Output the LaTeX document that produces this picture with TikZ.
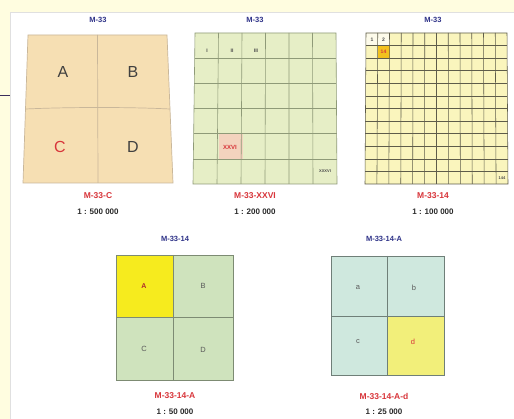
\documentclass[tikz,border=0pt]{standalone}
\usepackage{fontspec}
\setmainfont{Liberation Sans}
\usetikzlibrary{calc}
\definecolor{bgyellow}{HTML}{FFFDE0}
\definecolor{leftline}{HTML}{3A2D5C}
\definecolor{navy}{HTML}{2E3288}
\definecolor{mred}{HTML}{D8353A}
\definecolor{scaletxt}{HTML}{2A2A2A}
\definecolor{pfill}{HTML}{F6DFB3}
\definecolor{pline}{HTML}{C9B79A}
\definecolor{gfill}{HTML}{E6EEC6}
\definecolor{gline}{HTML}{8F9A78}
\definecolor{pinkcell}{HTML}{F3D3BE}
\definecolor{yfill}{HTML}{FAF5BD}
\definecolor{yline}{HTML}{5E5C4A}
\definecolor{orcell}{HTML}{F2C11E}
\definecolor{whcell}{HTML}{FDFBEA}
\definecolor{g4fill}{HTML}{CFE3BD}
\definecolor{g4line}{HTML}{7D8B73}
\definecolor{yelA}{HTML}{F6EB1E}
\definecolor{cfill}{HTML}{CFE8DE}
\definecolor{cline}{HTML}{6F7F78}
\definecolor{yeld}{HTML}{F2EF7A}
\begin{document}
\begin{tikzpicture}[x=1pt,y=-1pt,
  ttl/.style={text=navy,font=\bfseries\fontsize{7.5}{8}\selectfont,inner sep=0pt},
  nm/.style={text=mred,font=\bfseries\fontsize{8.5}{9}\selectfont,inner sep=0pt},
  scl/.style={text=scaletxt,font=\bfseries\fontsize{8}{9}\selectfont,inner sep=0pt},
  big/.style={text=black!75,font=\fontsize{16}{17}\selectfont,inner sep=0pt},
  tiny/.style={text=black!70,font=\bfseries\fontsize{5}{6}\selectfont,inner sep=0pt},
  small/.style={text=black!65,font=\bfseries\fontsize{6}{7}\selectfont,inner sep=0pt},
  quad/.style={text=black!65,font=\fontsize{7.5}{8}\selectfont,inner sep=0pt}]
\useasboundingbox (0,0) rectangle (514,419);
\fill[bgyellow] (0,0) rectangle (514,419);
\fill[white] (10,12) rectangle (514,419);
\draw[black!12] (10.5,419) -- (10.5,12.5) -- (514,12.5);
\draw[leftline,line width=1pt] (0,96) -- (10,96);
% ---------- panel 1
\coordinate (a1) at (28,35); \coordinate (b1) at (167,35);
\coordinate (c1) at (173,183); \coordinate (d1) at (23,183);
\fill[pfill] (a1) -- (b1) -- (c1) -- (d1) -- cycle;
\draw[pline,line width=0.7pt] ($(a1)!0.5!(b1)$) -- ($(d1)!0.5!(c1)$);
\draw[pline,line width=0.7pt] ($(a1)!0.5!(d1)$) .. controls (70,107) and (130,107) .. ($(b1)!0.5!(c1)$);
\draw[pline,line width=0.7pt] (a1) -- (b1) -- (c1) -- (d1) -- cycle;
\node[ttl] (t1) at (98,20) {M-33};
\node[big] (A1) at (63,72) {A};
\node[big] (B1) at (133,72) {B};
\node[big,text=mred] (C1) at (60,147) {C};
\node[big] (D1) at (133,147) {D};
\node[nm] (n1) at (98,196) {M-33-C};
\node[scl] (s1) at (98,212) {1 : 500 000};
% ---------- panel 2
\coordinate (a2) at (195,33); \coordinate (b2) at (336,33);
\coordinate (c2) at (337,184); \coordinate (d2) at (193,184);
\fill[gfill] (a2) -- (b2) -- (c2) -- (d2) -- cycle;
\fill[pinkcell] (218.5,134.5) rectangle (242.5,159);
\foreach \i in {1,...,5}{
  \draw[gline,line width=0.6pt] ($(a2)!\i/6!(b2)$) -- ($(d2)!\i/6!(c2)$);
  \draw[gline,line width=0.6pt] ($(a2)!\i/6!(d2)$) -- ($(b2)!\i/6!(c2)$);
}
\draw[gline,line width=0.6pt] (a2) -- (b2) -- (c2) -- (d2) -- cycle;
\node[ttl] (t2) at (255,20) {M-33};
\node[tiny] (r1) at (207,51) {I};
\node[tiny] (r2) at (232,51) {II};
\node[tiny] (r3) at (256,51) {III};
\node[small,text=mred] (r26) at (230,147) {XXVI};
\node[tiny,font=\bfseries\fontsize{4}{5}\selectfont] (r36) at (325,171) {XXXVI};
\node[nm] (n2) at (255,196) {M-33-XXVI};
\node[scl] (s2) at (255,212) {1 : 200 000};
% ---------- panel 3
\coordinate (a3) at (366,33); \coordinate (b3) at (507,33);
\coordinate (c3) at (508,184); \coordinate (d3) at (365,184);
\fill[yfill] (a3) -- (b3) -- (c3) -- (d3) -- cycle;
\fill[whcell] (366,33) rectangle (389.5,45.6);
\fill[orcell] (377.8,45.6) rectangle (389.5,58.2);
\foreach \i in {1,...,11}{
  \draw[yline,line width=0.55pt] ($(a3)!\i/12!(b3)$) -- ($(d3)!\i/12!(c3)$);
  \draw[yline,line width=0.55pt] ($(a3)!\i/12!(d3)$) -- ($(b3)!\i/12!(c3)$);
}
\draw[yline,line width=0.55pt] (a3) -- (b3) -- (c3) -- (d3) -- cycle;
\node[ttl] (t3) at (433,20) {M-33};
\node[tiny] (k1) at (372,39.5) {1};
\node[tiny] (k2) at (383.5,39.5) {2};
\node[tiny,text=mred] (k14) at (383.5,52) {14};
\node[tiny,font=\bfseries\fontsize{4}{5}\selectfont] (k144) at (502,178) {144};
\node[nm] (n3) at (433,196) {M-33-14};
\node[scl] (s3) at (433,212) {1 : 100 000};
% ---------- panel 4
\fill[g4fill] (116,255) rectangle (233,380);
\fill[yelA] (116,255) rectangle (173,317);
\draw[g4line,line width=0.7pt] (173,255) -- (173,380);
\draw[g4line,line width=0.7pt] (116,317) -- (233,317);
\draw[g4line,line width=0.7pt] (116,255) rectangle (233,380);
\node[ttl] (t4) at (175,239) {M-33-14};
\node[quad,text=mred!80!black,font=\bfseries\fontsize{7}{8}\selectfont] (A4) at (144,286) {A};
\node[quad] (B4) at (203,286) {B};
\node[quad] (C4) at (144,349) {C};
\node[quad] (D4) at (203,350) {D};
\node[nm] (n4) at (175,396) {M-33-14-A};
\node[scl] (s4) at (175,412) {1 : 50 000};
% ---------- panel 5
\fill[cfill] (331,256) rectangle (444,375);
\fill[yeld] (387,316) rectangle (444,375);
\draw[cline,line width=0.7pt] (387,256) -- (387,375);
\draw[cline,line width=0.7pt] (331,316) -- (444,316);
\draw[cline,line width=0.7pt] (331,256) rectangle (444,375);
\node[ttl] (t5) at (384,239) {M-33-14-A};
\node[quad] (a5) at (358,288) {a};
\node[quad] (b5) at (414,288) {b};
\node[quad] (c5) at (358,342) {c};
\node[quad,text=mred] (d5) at (413,342) {d};
\node[nm] (n5) at (384,396) {M-33-14-A-d};
\node[scl] (s5) at (384,412) {1 : 25 000};
\end{tikzpicture}
\end{document}
